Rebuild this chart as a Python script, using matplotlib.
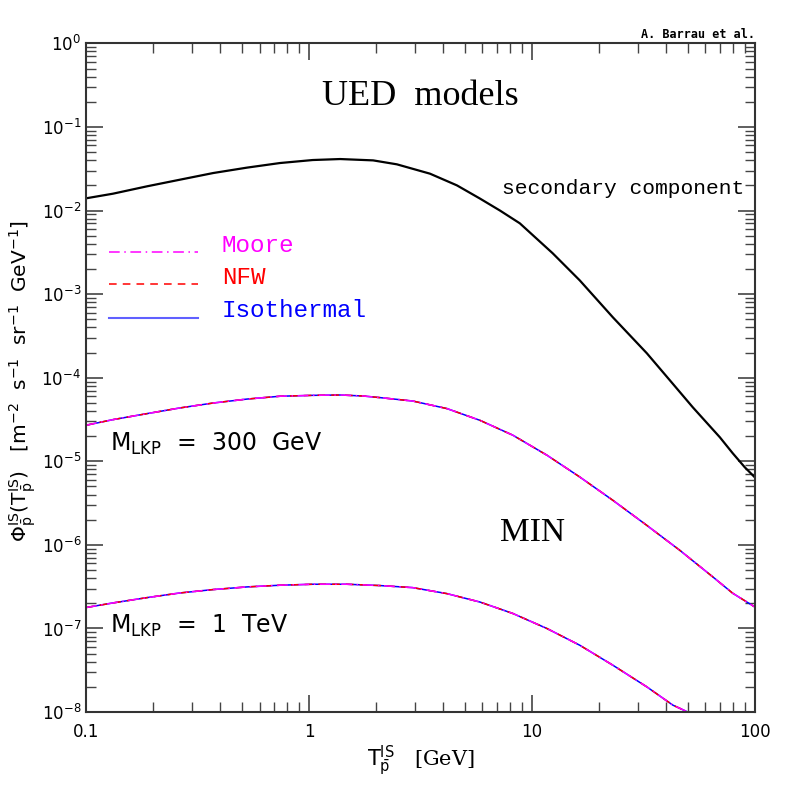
import numpy as np
import matplotlib
matplotlib.use("Agg")
import matplotlib.pyplot as plt
from matplotlib.ticker import LogLocator, NullFormatter

# secondary (astrophysical) antiproton component
t_sec = [0.1, 0.132, 0.188, 0.264, 0.372, 0.527, 0.741, 1.04, 1.38, 1.94,
         2.48, 3.49, 4.61, 5.85, 7.19, 8.83, 12.4, 16.4, 23.1, 32.8, 41.6,
         52.7, 69.7, 79.6, 90.2, 100]
phi_sec = [1.40e-2, 1.59e-2, 1.95e-2, 2.34e-2, 2.81e-2, 3.26e-2, 3.70e-2,
           4.02e-2, 4.13e-2, 3.98e-2, 3.57e-2, 2.76e-2, 2.00e-2, 1.39e-2,
           1.00e-2, 7.03e-3, 3.08e-3, 1.46e-3, 5.27e-4, 1.96e-4, 9.31e-5,
           4.43e-5, 1.94e-5, 1.25e-5, 8.48e-6, 6.44e-6]

# M_LKP = 300 GeV (Moore, NFW, Isothermal are on top of each other)
t_300 = [0.1, 0.132, 0.188, 0.264, 0.372, 0.527, 0.741, 1.04, 1.38, 1.75,
         2.08, 2.92, 4.16, 5.85, 8.22, 11.7, 16.4, 23.1, 32.8, 46.1, 64.9,
         79.6, 100]
phi_300 = [2.70e-5, 3.15e-5, 3.72e-5, 4.35e-5, 4.98e-5, 5.55e-5, 6.00e-5,
           6.15e-5, 6.21e-5, 6.04e-5, 5.78e-5, 5.26e-5, 4.27e-5, 3.09e-5,
           2.05e-5, 1.18e-5, 6.49e-6, 3.41e-6, 1.71e-6, 8.61e-7, 4.13e-7,
           2.64e-7, 1.81e-7]

# M_LKP = 1 TeV
t_1tev = [0.1, 0.132, 0.188, 0.264, 0.372, 0.527, 0.741, 1.04, 1.48, 2.08,
          2.92, 4.16, 5.85, 8.22, 11.7, 16.4, 23.1, 32.8, 42.9, 50.1]
phi_1tev = [1.78e-7, 2.02e-7, 2.34e-7, 2.66e-7, 2.92e-7, 3.14e-7, 3.29e-7,
            3.38e-7, 3.38e-7, 3.26e-7, 3.08e-7, 2.61e-7, 2.07e-7, 1.51e-7,
            9.97e-8, 6.30e-8, 3.63e-8, 2.00e-8, 1.21e-8, 1.0e-8]

profiles = ["Isothermal", "NFW", "Moore"]
colors = {"Isothermal": "blue", "NFW": "red", "Moore": "magenta"}
styles = {"Isothermal": "-", "NFW": (0, (5, 4)), "Moore": (0, (7, 3, 1, 3))}

fig = plt.figure(figsize=(7.97, 7.97), dpi=100)
ax = fig.add_axes([0.108, 0.1066, 0.839, 0.839])

ax.plot(t_sec, phi_sec, color="black", lw=1.6, solid_joinstyle="round")
for name in profiles:
    ax.plot(t_300, phi_300, color=colors[name], ls=styles[name], lw=1.1)
    ax.plot(t_1tev, phi_1tev, color=colors[name], ls=styles[name], lw=1.1)

ax.set_xscale("log")
ax.set_yscale("log")
ax.set_xlim(0.1, 100)
ax.set_ylim(1e-8, 1)
ax.xaxis.set_minor_locator(LogLocator(base=10, subs=np.arange(2, 10), numticks=100))
ax.yaxis.set_minor_locator(LogLocator(base=10, subs=np.arange(2, 10), numticks=100))
ax.yaxis.set_major_locator(LogLocator(base=10, numticks=100))
ax.xaxis.set_minor_formatter(NullFormatter())
ax.yaxis.set_minor_formatter(NullFormatter())
ax.set_xticks([0.1, 1, 10, 100])
ax.set_xticklabels(["0.1", "1", "10", "100"])
ax.tick_params(which="both", direction="in", top=True, right=True, colors="#444444",
               labelcolor="black", labelsize=12)
ax.tick_params(which="major", length=12, width=1.2)
ax.tick_params(which="minor", length=7, width=1.0)
ax.tick_params(axis="x", pad=8)
for s in ax.spines.values():
    s.set_linewidth(1.5)
    s.set_color("#333333")

ax.set_xlabel(r"$\mathrm{T}^{\mathrm{IS}}_{\bar{\mathrm{p}}}$   [GeV]",
              fontsize=15, family="DejaVu Serif", labelpad=2)
ax.set_ylabel(r"$\Phi^{\mathrm{IS}}_{\bar{\mathrm{p}}}(\mathrm{T}^{\mathrm{IS}}_{\bar{\mathrm{p}}})$"
              r"   [m$^{-2}$  s$^{-1}$  sr$^{-1}$  GeV$^{-1}$]",
              fontsize=14.5)
ax.yaxis.set_label_coords(-0.072, 0.495)

# legend drawn by hand to mimic the original
ax.plot([0.127, 0.318], [3.16e-3, 3.16e-3], color="magenta", ls=styles["Moore"], lw=1.1)
ax.plot([0.127, 0.318], [1.31e-3, 1.31e-3], color="red", ls=styles["NFW"], lw=1.1)
ax.plot([0.127, 0.318], [5.13e-4, 5.13e-4], color="#6060ff", lw=1.5)
ax.text(0.407, 3.84e-3, "Moore", color="magenta", fontsize=17.5,
        family="Liberation Mono", va="center")
ax.text(0.407, 1.59e-3, "NFW", color="red", fontsize=17.5,
        family="Liberation Mono", va="center")
ax.text(0.407, 6.42e-4, "Isothermal", color="blue", fontsize=17.5,
        family="Liberation Mono", va="center")

ax.text(0.5, 0.921, "UED  models", transform=ax.transAxes, ha="center", va="center",
        fontsize=26, family="Liberation Serif")
ax.text(0.985, 0.783, "secondary component", transform=ax.transAxes, ha="right",
        va="center", fontsize=15.3, family="Liberation Mono")
ax.text(0.128, 1.35e-5, r"M$_{\mathrm{LKP}}$  =  300  GeV", fontsize=17, va="baseline")
ax.text(0.128, 8.77e-8, r"M$_{\mathrm{LKP}}$  =  1  TeV", fontsize=17, va="baseline")
ax.text(0.668, 0.2676, "MIN", transform=ax.transAxes, ha="center", va="center",
        fontsize=24, family="Liberation Serif")
ax.text(1.0, 1.004, "A. Barrau et al.", transform=ax.transAxes, ha="right",
        va="bottom", fontsize=8.5, family="DejaVu Sans Mono", fontweight="bold")

fig.savefig("out.png", dpi=100)
